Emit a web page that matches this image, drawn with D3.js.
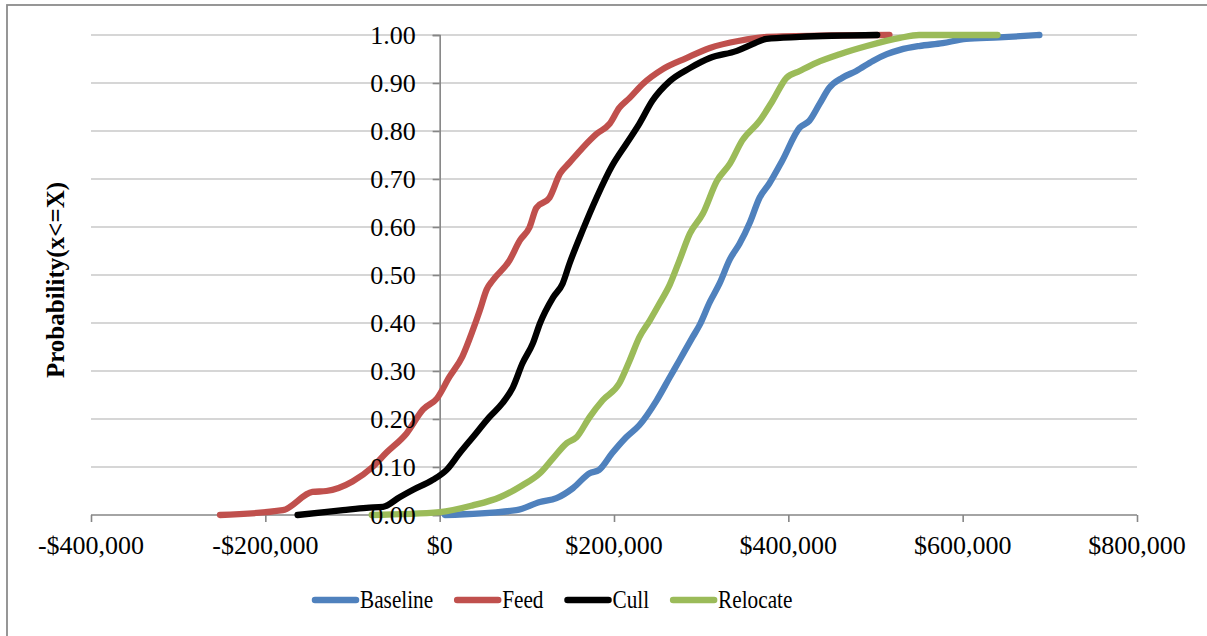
<!DOCTYPE html>
<html>
<head>
<meta charset="utf-8">
<script src="https://cdn.jsdelivr.net/npm/d3@7"></script>
<style>
  body { margin: 0; background: #fff; }
  svg { display: block; font-family: "Liberation Serif", "Times New Roman", serif; }
</style>
</head>
<body>
<svg id="chart" width="1207" height="636"></svg>
<script>
// series names / colours
var seriesNames = ["Baseline", "Feed", "Cull", "Relocate"];
var seriesColors = ["#4f81bd", "#c0504d", "#000000", "#9bbb59"];

// cumulative curves (x in $, p = probability)
var baselineX = [6000, 88000, 115000, 134000, 153000, 172000, 183000, 198000, 214000, 229000, 249000, 264000, 275000, 290000, 298000, 310000, 321000, 333000, 344000, 356000, 367000, 378000, 393000, 413000, 424000, 436000, 447000, 462000, 478000, 497000, 513000, 528000, 550000, 577000, 604000, 642000, 688000];
var baselineP = [0, 0.01, 0.027, 0.035, 0.056, 0.087, 0.094, 0.129, 0.162, 0.187, 0.239, 0.287, 0.322, 0.37, 0.395, 0.444, 0.482, 0.533, 0.565, 0.61, 0.661, 0.69, 0.738, 0.807, 0.821, 0.857, 0.89, 0.911, 0.925, 0.946, 0.96, 0.969, 0.977, 0.983, 0.992, 0.995, 1.0];

var feedX = [-252000, -180000, -146000, -130000, -100000, -77000, -61000, -38000, -19000, -3000, 11000, 26000, 38000, 46000, 54000, 61000, 80000, 92000, 103000, 111000, 126000, 138000, 149000, 164000, 180000, 195000, 206000, 218000, 233000, 256000, 283000, 310000, 344000, 375000, 447000, 516000];
var feedP = [0, 0.01, 0.048, 0.05, 0.07, 0.10, 0.13, 0.17, 0.22, 0.243, 0.287, 0.33, 0.385, 0.426, 0.47, 0.489, 0.53, 0.572, 0.599, 0.64, 0.661, 0.711, 0.734, 0.765, 0.794, 0.815, 0.848, 0.869, 0.898, 0.929, 0.952, 0.973, 0.988, 0.996, 0.999, 1.0];

var cullX = [-163000, -111000, -84000, -65000, -46000, -31000, -8000, 8000, 23000, 38000, 57000, 72000, 84000, 95000, 107000, 115000, 130000, 141000, 149000, 164000, 180000, 198000, 214000, 229000, 244000, 264000, 287000, 310000, 341000, 359000, 375000, 413000, 502000];
var cullP = [0, 0.01, 0.015, 0.017, 0.037, 0.052, 0.073, 0.094, 0.129, 0.162, 0.204, 0.233, 0.266, 0.316, 0.358, 0.399, 0.453, 0.482, 0.524, 0.593, 0.661, 0.728, 0.773, 0.815, 0.863, 0.904, 0.931, 0.952, 0.967, 0.981, 0.992, 0.996, 1.0];

var relocateX = [-78000, 0, 38000, 69000, 95000, 115000, 130000, 146000, 157000, 172000, 187000, 206000, 218000, 229000, 241000, 252000, 264000, 275000, 287000, 302000, 318000, 333000, 347000, 367000, 382000, 398000, 413000, 432000, 459000, 490000, 528000, 550000, 640000];
var relocateP = [0, 0.006, 0.02, 0.037, 0.062, 0.087, 0.118, 0.15, 0.162, 0.204, 0.239, 0.274, 0.322, 0.37, 0.405, 0.44, 0.48, 0.53, 0.586, 0.628, 0.696, 0.732, 0.78, 0.821, 0.863, 0.911, 0.925, 0.942, 0.96, 0.977, 0.994, 1.0, 1.0];

var xTicks = [-400000, -200000, 0, 200000, 400000, 600000, 800000];
var yTicks = [0, 0.1, 0.2, 0.3, 0.4, 0.5, 0.6, 0.7, 0.8, 0.9, 1.0];

var seriesXs = [baselineX, feedX, cullX, relocateX];
var seriesPs = [baselineP, feedP, cullP, relocateP];

var svg = d3.select("#chart");
var margin = { top: 35, left: 91, right: 70, bottom: 121 };
var width = 1207 - margin.left - margin.right,
    height = 636 - margin.top - margin.bottom;

// outer frame (runs off the right/bottom edge like the original)
svg.append("rect")
    .attr("x", 7).attr("y", 5)
    .attr("width", 1220).attr("height", 650)
    .attr("fill", "none")
    .attr("stroke", "#8c8c8c")
    .attr("stroke-width", 1.8);

var g = svg.append("g").attr("transform", "translate(" + margin.left + "," + margin.top + ")");

var x = d3.scaleLinear().domain([-400000, 800000]).range([0, width]);
var y = d3.scaleLinear().domain([0, 1]).range([height, 0]);

// gridlines
g.append("g")
  .selectAll("line")
  .data(yTicks.slice(1))
  .enter().append("line")
    .attr("x1", 0).attr("x2", width)
    .attr("y1", function(d) { return y(d); })
    .attr("y2", function(d) { return y(d); })
    .attr("stroke", "#c9c9c9")
    .attr("stroke-width", 1.6);

// axis lines + ticks (labels drawn later, on top)
var fmtMoney = function(d) {
  return (d < 0 ? "-$" : "$") + d3.format(",")(Math.abs(d));
};

var xAxis = g.append("g")
    .attr("transform", "translate(0," + height + ")")
    .call(d3.axisBottom(x).tickValues(xTicks).tickSize(7).tickFormat(""));
var yAxis = g.append("g")
    .attr("transform", "translate(" + x(0) + ",0)")
    .call(d3.axisLeft(y).tickValues(yTicks).tickSize(7).tickFormat(""));
[xAxis, yAxis].forEach(function(a) {
  a.selectAll("path, line").attr("stroke", "#868686").attr("stroke-width", 1.6);
});
xAxis.select(".domain").attr("d", "M0,0H" + width);
xAxis.selectAll(".tick line").attr("y2", 7);

// curves
var line = d3.line()
    .x(function(d) { return x(d[0]); })
    .y(function(d) { return y(d[1]); })
    .curve(d3.curveMonotoneX);

seriesNames.forEach(function(name, i) {
  var pts = seriesXs[i].map(function(v, j) { return [v, seriesPs[i][j]]; });
  g.append("path")
    .datum(pts)
    .attr("fill", "none")
    .attr("stroke", seriesColors[i])
    .attr("stroke-width", 6.3)
    .attr("stroke-linejoin", "round")
    .attr("stroke-linecap", "round")
    .attr("d", line);
});

// tick labels
g.append("g")
  .selectAll("text")
  .data(xTicks)
  .enter().append("text")
    .attr("x", function(d) { return x(d); })
    .attr("y", height + 39)
    .attr("text-anchor", "middle")
    .style("font-size", "26px")
    .attr("fill", "#000")
    .text(fmtMoney);

g.append("g")
  .selectAll("text")
  .data(yTicks)
  .enter().append("text")
    .attr("x", x(0) - 24)
    .attr("y", function(d) { return y(d); })
    .attr("dy", "0.35em")
    .attr("text-anchor", "end")
    .style("font-size", "26px")
    .attr("fill", "#000")
    .text(d3.format(".2f"));

// y title
svg.append("text")
    .attr("transform", "translate(64,280) rotate(-90)")
    .attr("text-anchor", "middle")
    .style("font-size", "25px")
    .style("font-weight", "bold")
    .text("Probability(x<=X)");

// legend
var lx = 312;
seriesNames.forEach(function(name, i) {
  svg.append("line")
    .attr("x1", lx + 3).attr("x2", lx + 44)
    .attr("y1", 600).attr("y2", 600)
    .attr("stroke", seriesColors[i])
    .attr("stroke-width", 6.5)
    .attr("stroke-linecap", "round");
  var t = svg.append("text")
    .attr("x", lx + 48)
    .attr("y", 608)
    .style("font-size", "25px")
    .text(name);
  var w = t.node().getComputedTextLength() * 0.85;
  t.attr("textLength", w).attr("lengthAdjust", "spacingAndGlyphs");
  lx += 48 + w + 21;
});
</script>
</body>
</html>
